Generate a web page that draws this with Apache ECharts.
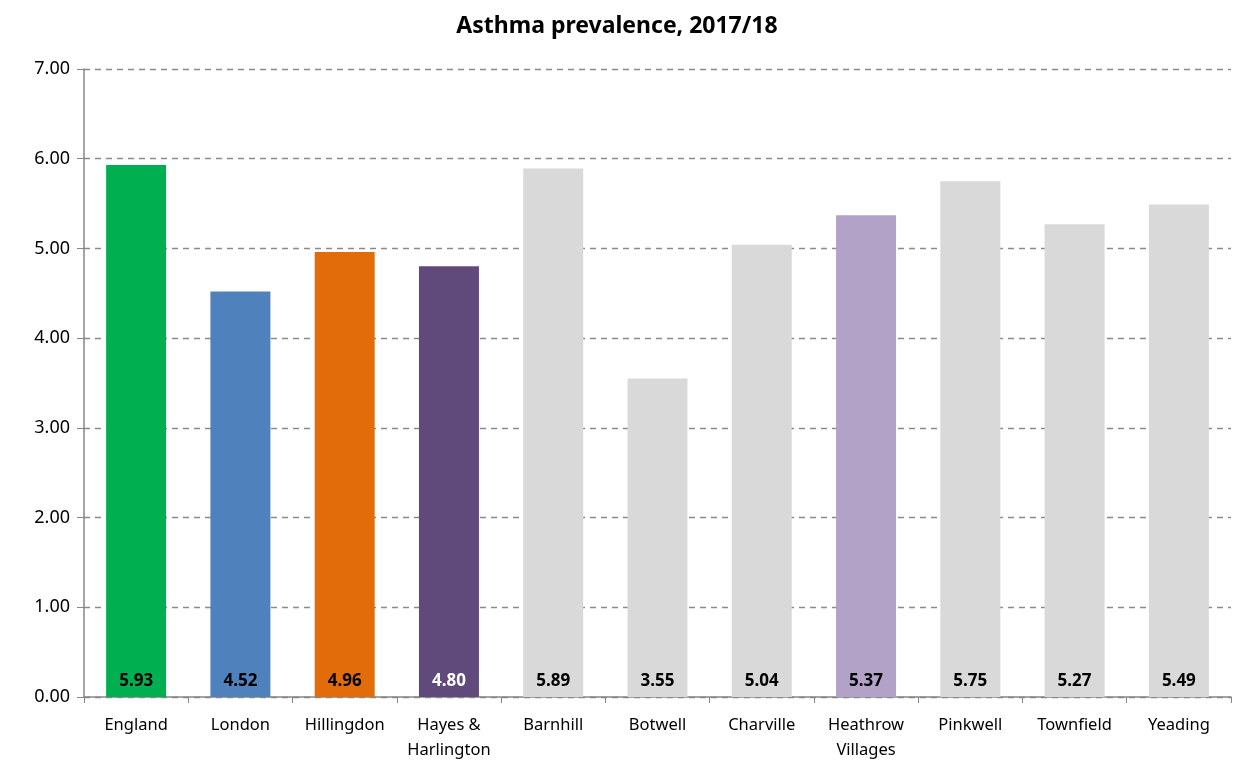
<!DOCTYPE html>
<html><head><meta charset="utf-8">
<script src="https://cdn.jsdelivr.net/npm/echarts@6/dist/echarts.min.js"></script>
<style>html,body{margin:0;padding:0;background:#fff}#c{width:1234px;height:763px}</style>
</head><body><div id="c"></div>
<script>
const categories = ["England","London","Hillingdon","Hayes &\nHarlington","Barnhill","Botwell","Charville","Heathrow\nVillages","Pinkwell","Townfield","Yeading"];
const values = [5.93,4.52,4.96,4.80,5.89,3.55,5.04,5.37,5.75,5.27,5.49];
const barColors = ["#00B050","#4F81BD","#E36C0A","#604A7B","#D9D9D9","#D9D9D9","#D9D9D9","#B3A2C7","#D9D9D9","#D9D9D9","#D9D9D9"];
const labelColors = ["#000","#000","#000","#fff","#000","#000","#000","#000","#000","#000","#000"];
const font = "'Noto Sans', 'Open Sans', sans-serif";
const chart = echarts.init(document.getElementById('c'));
chart.setOption({
  animation:false,
  title:{text:"Asthma prevalence, 2017/18",left:'center',top:10,textStyle:{fontFamily:font,fontSize:23,fontWeight:'bold',color:'#000'}},
  grid:{left:84,right:3,top:69,bottom:60,containLabel:false},
  xAxis:{type:'category',data:categories,
    axisLine:{lineStyle:{color:'#868686',width:1.5}},
    axisTick:{show:true,length:6,lineStyle:{color:'#868686'}},
    axisLabel:{fontFamily:font,fontSize:16.5,color:'#000',margin:16,lineHeight:25,interval:0}},
  yAxis:{type:'value',min:0,max:7,interval:1,
    axisLine:{show:true,lineStyle:{color:'#868686',width:1.5}},
    axisTick:{show:true,length:7,lineStyle:{color:'#868686'}},
    axisLabel:{fontFamily:font,fontSize:18,color:'#000',margin:14,formatter:v=>v.toFixed(2)},
    splitLine:{lineStyle:{color:'#8a8a8a',type:[6,5],width:1.3}}},
  series:[{type:'bar',barWidth:60,
    data:values.map((v,i)=>({value:v,itemStyle:{color:barColors[i]},label:{color:labelColors[i]}})),
    label:{show:true,position:'insideBottom',distance:7,fontFamily:font,fontSize:17,fontWeight:'bold',formatter:p=>p.value.toFixed(2)}}]
});
</script></body></html>
